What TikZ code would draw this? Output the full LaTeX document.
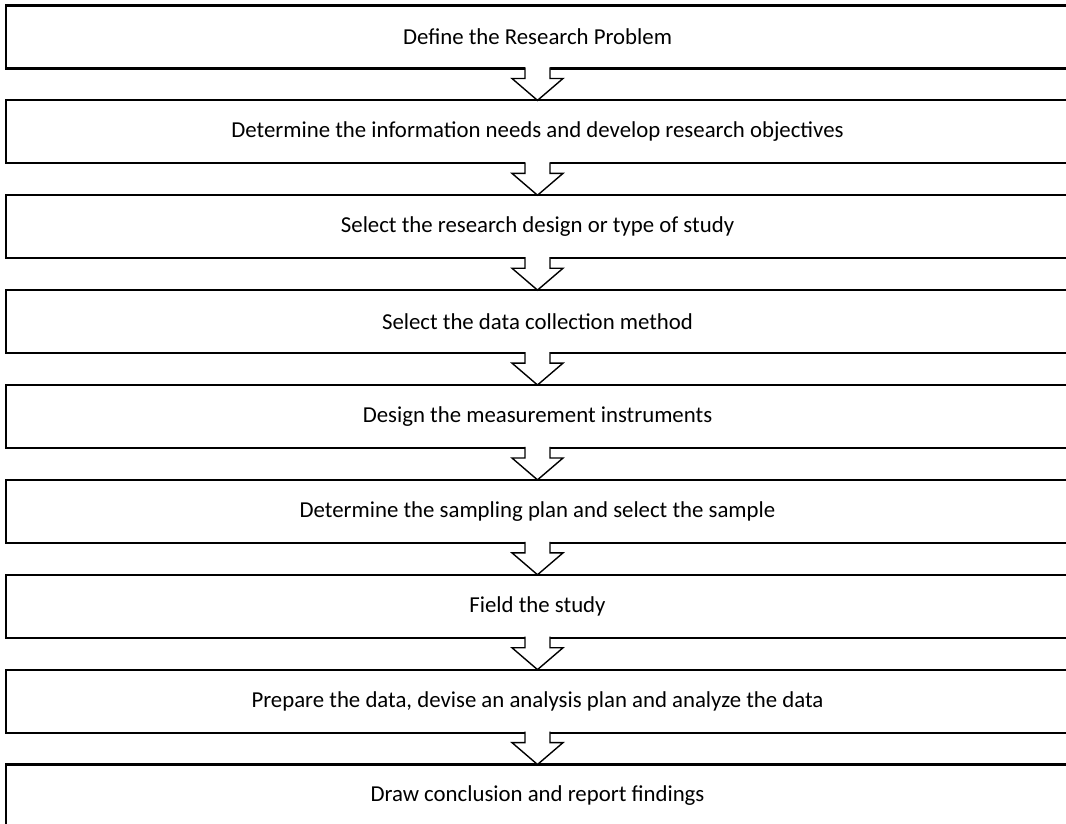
\documentclass[tikz,border=0pt]{standalone}
\usepackage{fontspec}
\setmainfont{Carlito}
\usetikzlibrary{calc}
\newcommand\flowarrow[2]{%
  \fill[white] ($(#1.south)+(-12.5,-1.6)$) -- ($(#1.south)+(-12.5,10)$) -- ($(#1.south)+(-25.5,10)$) -- (#2.north) -- ($(#1.south)+(25.5,10)$) -- ($(#1.south)+(12.5,10)$) -- ($(#1.south)+(12.5,-1.6)$) -- cycle;
  \draw[arrowline] ($(#1.south)+(-12.5,-1.1)$) -- ($(#1.south)+(-12.5,10)$) -- ($(#1.south)+(-25.5,10)$) -- (#2.north) -- ($(#1.south)+(25.5,10)$) -- ($(#1.south)+(12.5,10)$) -- ($(#1.south)+(12.5,-1.1)$);
}
\begin{document}
\begin{tikzpicture}[x=1pt,y=-1pt,
  stepbox/.style={draw=black, line width=2.2pt, fill=white, minimum width=1063pt,
    minimum height=63pt, inner sep=0pt, outer sep=0pt,
    font=\fontsize{22.8}{26}\selectfont},
  arrowline/.style={draw=black, line width=1.4pt, line join=miter}]
\useasboundingbox (0,0) rectangle (1066,824);
\fill[white] (0,0) rectangle (1066,824);
\foreach \t [count=\i] in {
  {Define the Research Problem},
  {Determine the information needs and develop research objectives},
  {Select the research design or type of study},
  {Select the data collection method},
  {Design the measurement instruments},
  {Determine the sampling plan and select the sample},
  {Field the study},
  {Prepare the data, devise an analysis plan and analyze the data},
  {Draw conclusion and report findings}}
{
  \node[stepbox] (b\i) at (537.5, {37+94.875*(\i-1)}) {\t};
}
\foreach \i in {1,...,8}{
  \pgfmathtruncatemacro\j{\i+1}
  \flowarrow{b\i}{b\j}
}
\end{tikzpicture}
\end{document}
